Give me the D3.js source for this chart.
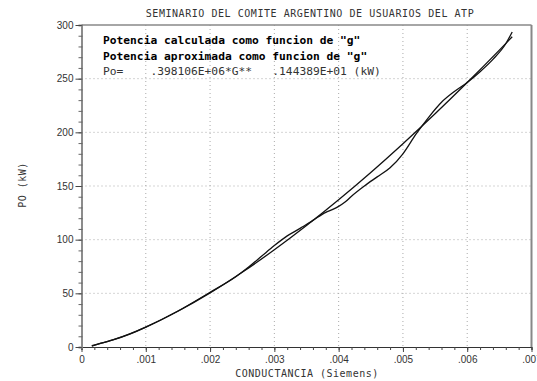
<!DOCTYPE html>
<html>
<head>
<meta charset="utf-8">
<script src="https://cdn.jsdelivr.net/npm/d3@7"></script>
<style>
  html, body { margin: 0; padding: 0; background: #fff; }
  svg { display: block; }
</style>
</head>
<body>
<svg id="chart" width="537" height="381"></svg>
<script>
// Conductance (S) and output power (kW), computed curve
const gCalc = [0.00016, 0.0003, 0.0005, 0.00075, 0.001, 0.0015, 0.002, 0.0024, 0.0026, 0.0028,
  0.003, 0.0032, 0.0034, 0.0036, 0.0038, 0.0039, 0.004, 0.0041, 0.0042, 0.0044, 0.0046,
  0.0048, 0.005, 0.0052, 0.0054, 0.0056, 0.0058, 0.006, 0.0062, 0.0064, 0.0066, 0.0067];
const pCalc = [0.8, 3.5, 6.8, 12, 18.5, 33.5, 51, 65.5, 74.5, 84.5,
  94.5, 103.5, 110.5, 118, 125.5, 128, 131, 135, 140.5, 150, 158.5,
  167, 180, 198, 214, 228, 238, 246.5, 256.5, 268, 282.5, 293.5];

// Approximated curve
const gApprox = [0.00016, 0.0003, 0.0005, 0.00075, 0.001, 0.0015, 0.002, 0.0025, 0.003,
  0.0035, 0.004, 0.0045, 0.005, 0.0055, 0.006, 0.0065, 0.0067];
const pApprox = [1.3, 3.3, 6.8, 12.2, 18.5, 33.3, 50.4, 69.6, 90.6,
  113.2, 137.2, 162.6, 189.4, 217.3, 246.4, 276.6, 289];

const xTicks = [0, 0.001, 0.002, 0.003, 0.004, 0.005, 0.006, 0.007];
const xTickLabels = ["0", ".001", ".002", ".003", ".004", ".005", ".006", ".007"];
const yTicks = [0, 50, 100, 150, 200, 250, 300];

const titleText = "SEMINARIO DEL COMITE ARGENTINO DE USUARIOS DEL ATP";
const legendLines = [
  'Potencia calculada como funcion de "g"',
  'Potencia aproximada como funcion de "g"',
  'Po=    .398106E+06*G**   .144389E+01 (kW)'
];
const xLabel = "CONDUCTANCIA (Siemens)";
const yLabel = "PO (kW)";

const svg = d3.select("#chart");
const L = 81.5, R = 531.5, T = 25, B = 347;

const x = d3.scaleLinear().domain([0, 0.007]).range([L, R]);
const y = d3.scaleLinear().domain([0, 300]).range([B, T]);

const mono = "'DejaVu Sans Mono', monospace";
const sans = "'Liberation Sans', Arial, sans-serif";

// dotted grid at major ticks
const grid = svg.append("g");
grid.selectAll("line.gx").data(xTicks.slice(1, -1)).join("line")
  .attr("x1", d => x(d)).attr("x2", d => x(d)).attr("y1", T).attr("y2", B)
  .attr("stroke", "#aaa").attr("stroke-width", 1).attr("stroke-dasharray", "1,3");
grid.selectAll("line.gy").data(yTicks.slice(1, -1)).join("line")
  .attr("y1", d => y(d)).attr("y2", d => y(d)).attr("x1", L).attr("x2", R)
  .attr("stroke", "#aaa").attr("stroke-width", 1).attr("stroke-dasharray", "1,3");

// frame
svg.append("line").attr("x1", L).attr("x2", R).attr("y1", T).attr("y2", T)
  .attr("stroke", "#888").attr("stroke-width", 1.5);
svg.append("line").attr("x1", R).attr("x2", R).attr("y1", T).attr("y2", B)
  .attr("stroke", "#888").attr("stroke-width", 2);

// x axis
const xAxis = d3.axisBottom(x).tickValues(d3.range(0, 36).map(i => i * 0.0002))
  .tickSize(3).tickFormat("");
const gx = svg.append("g").attr("transform", `translate(0,${B})`).call(xAxis);
gx.select(".domain").attr("stroke", "#333").attr("stroke-width", 1);
gx.selectAll(".tick line").attr("stroke", "#444");
const xMaj = d3.axisBottom(x).tickValues(xTicks).tickSize(5)
  .tickFormat((d, i) => xTickLabels[i]);
const gx2 = svg.append("g").attr("transform", `translate(0,${B})`).call(xMaj);
gx2.select(".domain").remove();
gx2.selectAll(".tick line").attr("stroke", "#444");
gx2.selectAll(".tick text").attr("font-family", sans).attr("font-size", 10)
  .attr("fill", "#333").attr("dy", 0).attr("y", 15.5);

// y axis
const yMin = d3.axisLeft(y).tickValues(d3.range(0, 31).map(i => i * 10))
  .tickSize(3).tickFormat("");
const gy = svg.append("g").attr("transform", `translate(${L},0)`).call(yMin);
gy.select(".domain").attr("stroke", "#8c8c8c").attr("stroke-width", 2);
gy.selectAll(".tick line").attr("stroke", "#666").attr("x2", -3).attr("x1", 1);
const yMaj = d3.axisLeft(y).tickValues(yTicks).tickSize(6).tickPadding(2);
const gy2 = svg.append("g").attr("transform", `translate(${L},0)`).call(yMaj);
gy2.select(".domain").remove();
gy2.selectAll(".tick line").attr("stroke", "#444");
gy2.selectAll(".tick text").attr("font-family", sans).attr("font-size", 10)
  .attr("fill", "#333");

// curves
const lineCalc = d3.line().x((d, i) => x(gCalc[i])).y(d => y(d)).curve(d3.curveMonotoneX);
const lineApprox = d3.line().x((d, i) => x(gApprox[i])).y(d => y(d)).curve(d3.curveMonotoneX);
svg.append("path").attr("d", lineApprox(pApprox)).attr("fill", "none")
  .attr("stroke", "#111").attr("stroke-width", 1.3);
svg.append("path").attr("d", lineCalc(pCalc)).attr("fill", "none")
  .attr("stroke", "#111").attr("stroke-width", 1.3);

// title and axis labels
svg.append("text").attr("x", 310).attr("y", 17).attr("text-anchor", "middle")
  .attr("font-family", mono).attr("font-size", 10).attr("letter-spacing", 0.55)
  .attr("fill", "#333").text(titleText);
svg.append("text").attr("x", 307).attr("y", 377).attr("text-anchor", "middle")
  .attr("font-family", mono).attr("font-size", 10).attr("letter-spacing", 0.5)
  .attr("fill", "#333").text(xLabel);
svg.append("text").attr("transform", "translate(26,185) rotate(-90)")
  .attr("text-anchor", "middle").attr("font-family", mono).attr("font-size", 10)
  .attr("letter-spacing", 0.5).attr("fill", "#333").text(yLabel);

// legend text
const legend = svg.append("g").attr("font-family", mono).attr("font-size", 11.25)
  .attr("xml:space", "preserve");
legend.selectAll("text").data(legendLines).join("text")
  .attr("x", 103).attr("y", (d, i) => 44 + i * 15.7)
  .attr("font-weight", (d, i) => i < 2 ? "bold" : "normal")
  .attr("fill", (d, i) => i < 2 ? "#000" : "#333")
  .style("white-space", "pre")
  .text(d => d);
</script>
</body>
</html>
